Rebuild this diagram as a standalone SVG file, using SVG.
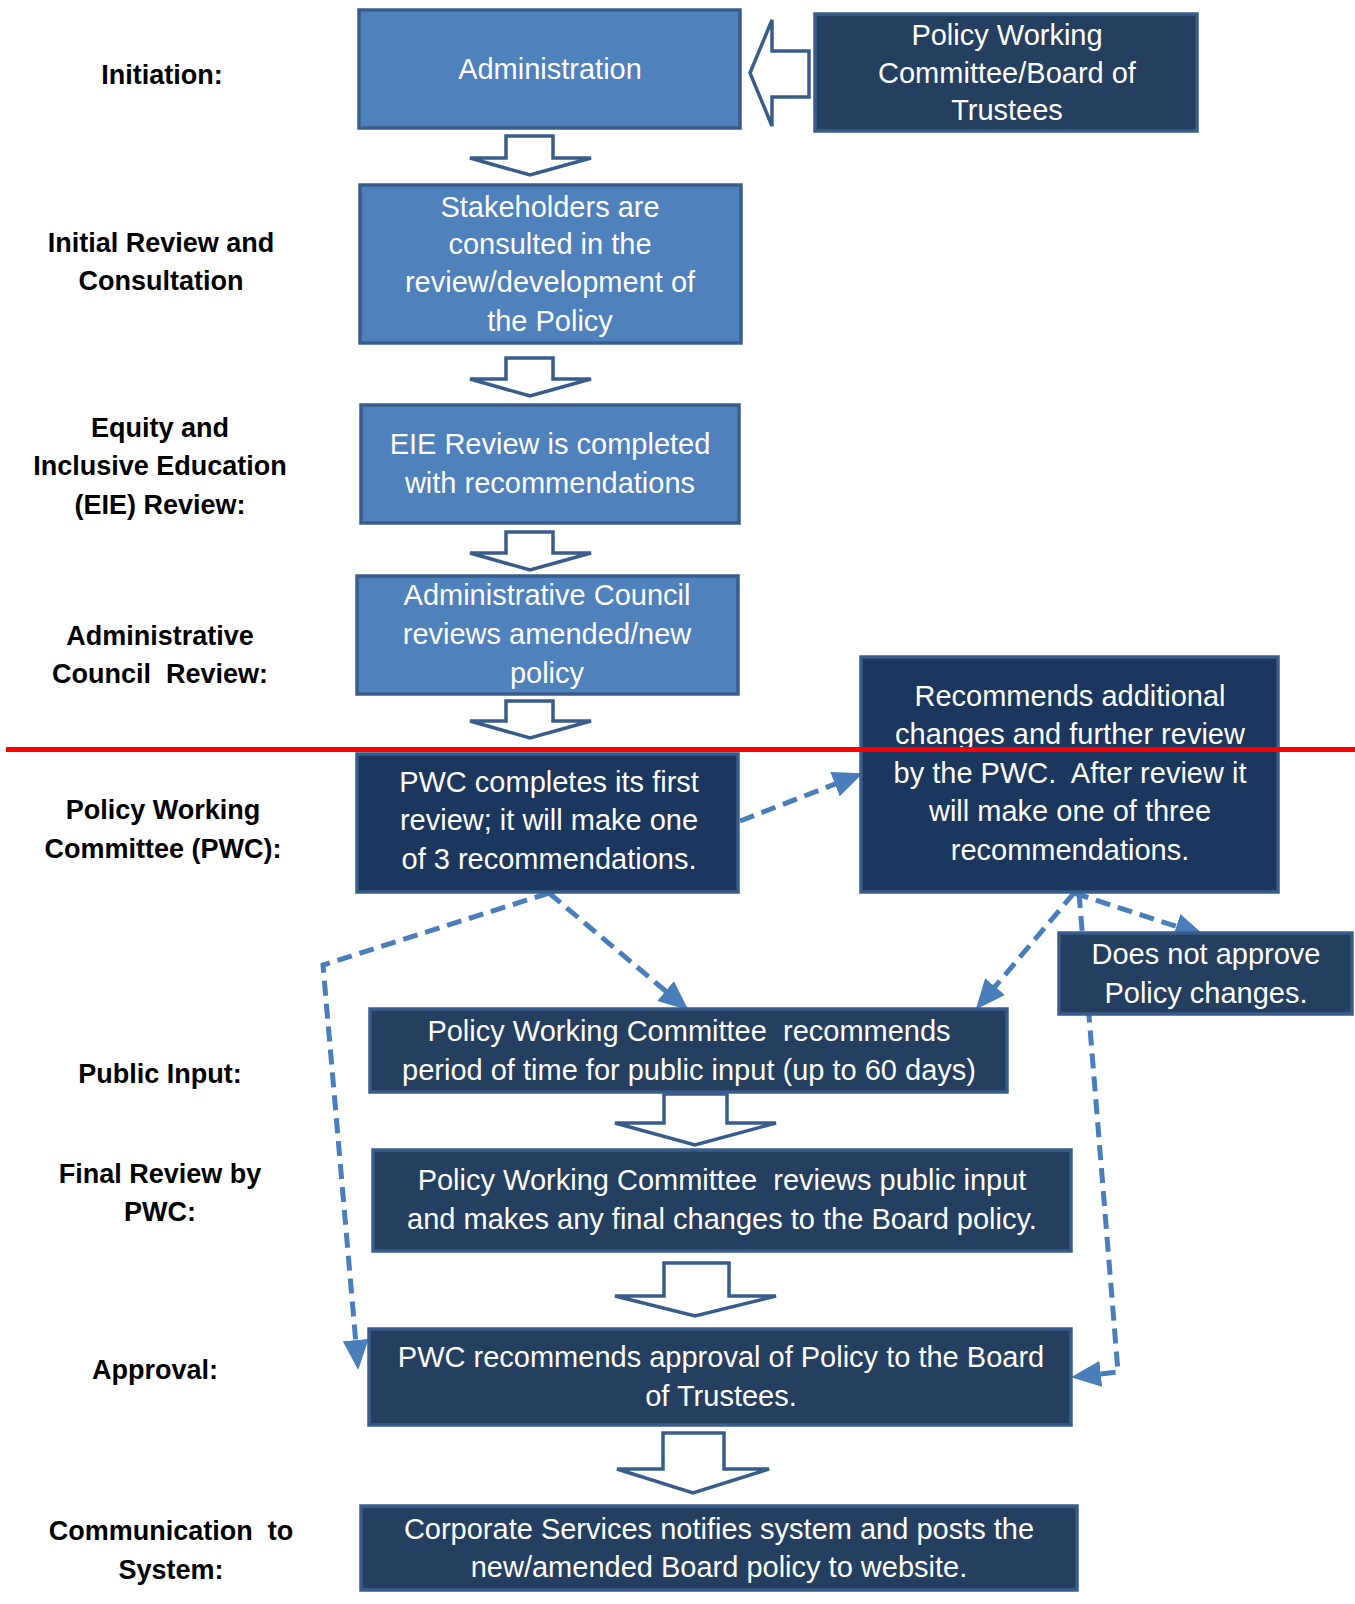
<svg xmlns="http://www.w3.org/2000/svg" width="1355" height="1604" viewBox="0 0 1355 1604">
<style>
text{white-space:pre}
.lbl{font-family:"Liberation Sans",Arial,sans-serif;font-weight:bold;font-size:27px;fill:#000;text-anchor:middle}
.bt{font-family:"Liberation Sans",Arial,sans-serif;font-size:29px;fill:#fff;text-anchor:middle}
.lb{fill:#4f81bd;stroke:#385d8a;stroke-width:3.5}
.db{fill:#243f60;stroke:#385d8a;stroke-width:3.5}
.dk{fill:#1b375d;stroke:#385d8a;stroke-width:3.5}
.ba{fill:#fff;stroke:#385d8a;stroke-width:3.5;stroke-linejoin:miter}
.dash{fill:none;stroke:#4a7ebb;stroke-width:5;stroke-dasharray:15 8}
</style>
<defs>
<marker id="ah" markerUnits="userSpaceOnUse" markerWidth="30" markerHeight="26" refX="2" refY="13" orient="auto">
<path d="M0,0 L30,13 L0,26 z" fill="#4a7ebb"/>
</marker>
</defs>
<rect width="1355" height="1604" fill="#fff"/>

<g id="labels">
<text class="lbl" x="162" y="84">Initiation:</text>
<text class="lbl" x="161" y="252">Initial Review and</text>
<text class="lbl" x="161" y="290">Consultation</text>
<text class="lbl" x="160" y="437">Equity and</text>
<text class="lbl" x="160" y="475">Inclusive Education</text>
<text class="lbl" x="160" y="514">(EIE) Review:</text>
<text class="lbl" x="160" y="645">Administrative</text>
<text class="lbl" x="160" y="683" xml:space="preserve">Council  Review:</text>
<text class="lbl" x="163" y="819">Policy Working</text>
<text class="lbl" x="163" y="858">Committee (PWC):</text>
<text class="lbl" x="160" y="1083">Public Input:</text>
<text class="lbl" x="160" y="1183">Final Review by</text>
<text class="lbl" x="160" y="1221">PWC:</text>
<text class="lbl" x="155" y="1379">Approval:</text>
<text class="lbl" x="171" y="1540" xml:space="preserve">Communication  to</text>
<text class="lbl" x="171" y="1579">System:</text>
</g>

<g id="connectors">
<path class="dash" d="M740,821 L836.8,783.4" marker-end="url(#ah)"/>
<path class="dash" d="M549,893 L667.1,992.3" marker-end="url(#ah)"/>
<path class="dash" d="M549,893 L323,965 L355.8,1342.1" marker-end="url(#ah)"/>
<path class="dash" d="M1074,893 L993.8,988.1" marker-end="url(#ah)"/>
<path class="dash" d="M1074,893 L1178.2,927" marker-end="url(#ah)"/>
<path class="dash" d="M1079,893 L1118,1372 L1098.8,1374.1" marker-end="url(#ah)"/>
<path class="ba" d="M750,73 L772,20 L772,51 L809,51 L809,97 L772,97 L772,126 Z"/>
<path class="ba" d="M506,136 L553,136 L553,158 L591,158 L530,175 L470,158 L506,158 Z"/>
<path class="ba" d="M506,358 L553,358 L553,379 L591,379 L530,396 L470,379 L506,379 Z"/>
<path class="ba" d="M506,532 L553,532 L553,553 L591,553 L530,570 L470,553 L506,553 Z"/>
<path class="ba" d="M506,701 L553,701 L553,721 L591,721 L530,738 L470,721 L506,721 Z"/>
<path class="ba" d="M664,1094 L727,1094 L727,1123 L776,1123 L695,1145 L615,1123 L664,1123 Z"/>
<path class="ba" d="M664,1263 L729,1263 L729,1296 L776,1296 L695,1316 L615,1296 L664,1296 Z"/>
<path class="ba" d="M663,1433 L724,1433 L724,1469 L769,1469 L693,1493 L617,1469 L663,1469 Z"/>
</g>

<g id="n-admin">
<rect class="lb" x="359" y="10" width="381" height="118"/>
<text class="bt" x="550" y="79">Administration</text>
</g>
<g id="n-board">
<rect class="db" x="815" y="14" width="382" height="117"/>
<text class="bt" x="1007" y="45">Policy Working</text>
<text class="bt" x="1007" y="83">Committee/Board of</text>
<text class="bt" x="1007" y="120">Trustees</text>
</g>
<g id="n-stake">
<rect class="lb" x="360" y="185" width="381" height="158"/>
<text class="bt" x="550" y="217">Stakeholders are</text>
<text class="bt" x="550" y="254">consulted in the</text>
<text class="bt" x="550" y="292">review/development of</text>
<text class="bt" x="550" y="331">the Policy</text>
</g>
<g id="n-eie">
<rect class="lb" x="361" y="405" width="378" height="118"/>
<text class="bt" x="550" y="454">EIE Review is completed</text>
<text class="bt" x="550" y="493">with recommendations</text>
</g>
<g id="n-council">
<rect class="lb" x="357" y="576" width="381" height="118"/>
<text class="bt" x="547" y="605">Administrative Council</text>
<text class="bt" x="547" y="644">reviews amended/new</text>
<text class="bt" x="547" y="683">policy</text>
</g>
<g id="n-pwc">
<rect class="dk" x="357" y="754" width="381" height="138"/>
<text class="bt" x="549" y="792">PWC completes its first</text>
<text class="bt" x="549" y="830">review; it will make one</text>
<text class="bt" x="549" y="869">of 3 recommendations.</text>
</g>
<g id="n-recommends">
<rect class="dk" x="861" y="657" width="417" height="235"/>
<text class="bt" x="1070" y="706">Recommends additional</text>
<text class="bt" x="1070" y="744">changes and further review</text>
<text class="bt" x="1070" y="783" xml:space="preserve">by the PWC.  After review it</text>
<text class="bt" x="1070" y="821">will make one of three</text>
<text class="bt" x="1070" y="860">recommendations.</text>
</g>
<g id="n-notapprove">
<rect class="db" x="1059" y="933" width="293" height="81"/>
<text class="bt" x="1206" y="964">Does not approve</text>
<text class="bt" x="1206" y="1003">Policy changes.</text>
</g>
<g id="n-public">
<rect class="db" x="370" y="1009" width="637" height="83"/>
<text class="bt" x="689" y="1041" xml:space="preserve">Policy Working Committee  recommends</text>
<text class="bt" x="689" y="1080">period of time for public input (up to 60 days)</text>
</g>
<g id="n-final">
<rect class="db" x="373" y="1150" width="698" height="101"/>
<text class="bt" x="722" y="1190" xml:space="preserve">Policy Working Committee  reviews public input</text>
<text class="bt" x="722" y="1229">and makes any final changes to the Board policy.</text>
</g>
<g id="n-approval">
<rect class="db" x="369" y="1329" width="702" height="96"/>
<text class="bt" x="721" y="1367">PWC recommends approval of Policy to the Board</text>
<text class="bt" x="721" y="1406">of Trustees.</text>
</g>
<g id="n-comm">
<rect class="db" x="361" y="1506" width="716" height="84"/>
<text class="bt" x="719" y="1539">Corporate Services notifies system and posts the</text>
<text class="bt" x="719" y="1577">new/amended Board policy to website.</text>
</g>

<line id="divider" x1="6" y1="749.5" x2="1355" y2="749.5" stroke="#ff0000" stroke-width="5"/>
</svg>
